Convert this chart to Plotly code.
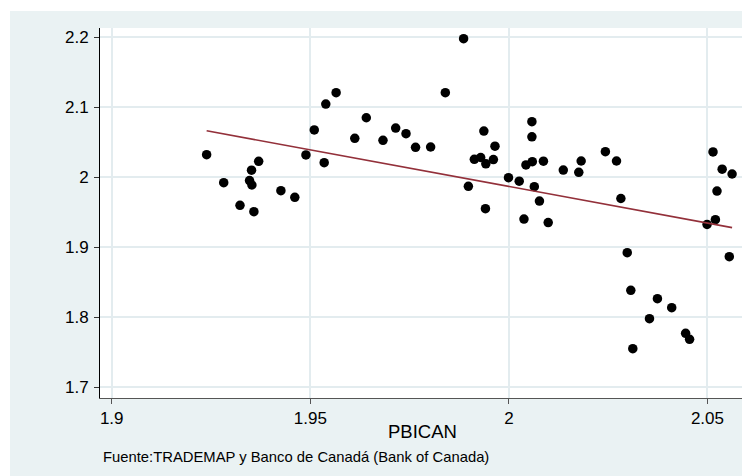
import numpy as np
import plotly.graph_objects as go

# Data (x = PBICAN, y = dependent variable)
pbican = [1.9239, 1.9282, 1.9323, 1.9358, 1.9347, 1.9353, 1.9352, 1.9370, 1.9426, 1.9461,
          1.9489, 1.9510, 1.9535, 1.9539, 1.9565, 1.9612, 1.9641, 1.9683, 1.9715, 1.9741,
          1.9765, 1.9803, 1.9840, 1.9886, 1.9898, 1.9913, 1.9929, 1.9937, 1.9942, 1.9965,
          1.9961, 1.9941, 1.9999, 2.0026, 2.0058, 2.0058, 2.0043, 2.0059, 2.0087, 2.0064,
          2.0077, 2.0038, 2.0099, 2.0137, 2.0176, 2.0182, 2.0243, 2.0271, 2.0282, 2.0298,
          2.0307, 2.0312, 2.0354, 2.0374, 2.0410, 2.0445, 2.0455, 2.0499, 2.0520, 2.0514,
          2.0524, 2.0537, 2.0562, 2.0555]
yvals = [2.0323, 1.9923, 1.9600, 1.9509, 1.9954, 1.9890, 2.0102, 2.0229, 1.9809, 1.9714,
         2.0319, 2.0676, 2.0209, 2.1047, 2.1209, 2.0557, 2.0851, 2.0529, 2.0704, 2.0623,
         2.0429, 2.0433, 2.1209, 2.1980, 1.9871, 2.0257, 2.0283, 2.0661, 2.0192, 2.0445,
         2.0254, 1.9551, 1.9994, 1.9945, 2.0794, 2.0578, 2.0176, 2.0223, 2.0231, 1.9866,
         1.9661, 1.9404, 1.9354, 2.0104, 2.0071, 2.0233, 2.0366, 2.0233, 1.9697, 1.8923,
         1.8386, 1.7551, 1.7980, 1.8266, 1.8137, 1.7771, 1.7686, 1.9326, 1.9394, 2.0363,
         1.9804, 2.0116, 2.0047, 1.8866]

x_ticks = [1.9, 1.95, 2.0, 2.05]
x_ticklabels = ["1.9", "1.95", "2", "2.05"]
y_ticks = [1.7, 1.8, 1.9, 2.0, 2.1, 2.2]
y_ticklabels = ["1.7", "1.8", "1.9", "2", "2.1", "2.2"]

x_title = "PBICAN"
caption = "Fuente:TRADEMAP y Banco de Canadá (Bank of Canada)"

# Linear fit
slope, intercept = np.polyfit(pbican, yvals, 1)
fit_x = [min(pbican), max(pbican)]
fit_y = [slope * v + intercept for v in fit_x]

BG = "#EAF2F3"
GRID = "#E3ECEF"
FONT = "Liberation Sans, Arial, sans-serif"

fig = go.Figure()
fig.add_trace(go.Scatter(
    x=pbican, y=yvals, mode="markers",
    marker=dict(color="black", size=9.5, line=dict(width=0)),
    showlegend=False, hoverinfo="skip",
))
fig.add_trace(go.Scatter(
    x=fit_x, y=fit_y, mode="lines",
    line=dict(color="#93303A", width=1.6),
    showlegend=False, hoverinfo="skip",
))

# page has an 8px body margin, so the figure is 742x468 placed at (8,8)
OFF = 8
W, H = 750 - OFF, 476 - OFF
L, T = 100 - OFF, 28 - OFF
R = W - (744 - OFF)
B = H - (398 - OFF)
pw, ph = W - L - R, H - T - B

def px_x(p):
    return (p - OFF - L) / pw

def px_y(p):
    return (H - B - (p - OFF)) / ph

fig.update_layout(
    width=W, height=H,
    margin=dict(l=L, r=R, t=T, b=B, pad=0),
    paper_bgcolor=BG, plot_bgcolor="white",
    font=dict(family=FONT, color="black"),
    shapes=[
        dict(type="rect", xref="paper", yref="paper", x0=px_x(0), x1=px_x(760),
             y0=px_y(11), y1=px_y(0), fillcolor="white", line=dict(width=0), layer="below"),
        dict(type="rect", xref="paper", yref="paper", x0=px_x(0), x1=px_x(10),
             y0=px_y(480), y1=px_y(0), fillcolor="white", line=dict(width=0), layer="below"),
    ],
    annotations=[
        dict(text=x_title, xref="paper", yref="paper", x=0.5, y=px_y(431.5),
             xanchor="center", yanchor="middle", showarrow=False,
             font=dict(family=FONT, size=18.5, color="black")),
        dict(text=caption, xref="paper", yref="paper", x=px_x(101), y=px_y(457),
             xanchor="left", yanchor="middle", showarrow=False,
             font=dict(family=FONT, size=14.8, color="black")),
    ],
)

fig.update_xaxes(
    range=[1.89705, 2.0592],
    tickvals=x_ticks, ticktext=x_ticklabels,
    showgrid=True, gridcolor=GRID, gridwidth=1.6,
    zeroline=False,
    showline=True, linecolor="#555555", linewidth=1, mirror=False,
    ticks="outside", ticklen=5, tickcolor="#555555", tickwidth=1,
    tickfont=dict(family=FONT, size=17, color="black"),
)
fig.update_yaxes(
    range=[1.6847, 2.2133],
    tickvals=y_ticks, ticktext=y_ticklabels,
    showgrid=True, gridcolor=GRID, gridwidth=1.6,
    zeroline=False,
    showline=True, linecolor="black", linewidth=1, mirror=False,
    ticks="outside", ticklen=5, tickcolor="#333333", tickwidth=1,
    tickfont=dict(family=FONT, size=17, color="black"),
    ticklabelstandoff=2,
)

fig.write_html("out.html")
